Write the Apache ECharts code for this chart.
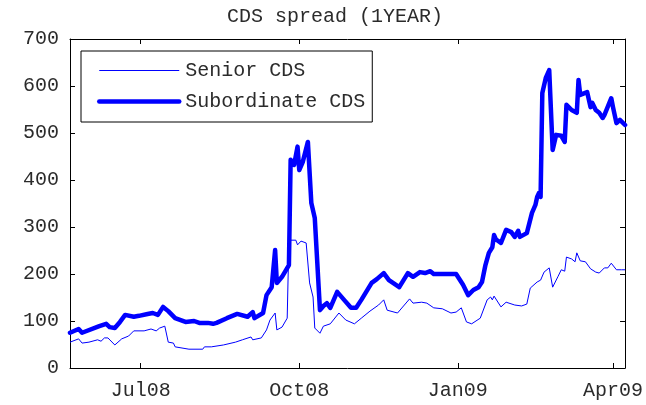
<!DOCTYPE html>
<html>
<head>
<meta charset="utf-8">
<title>CDS spread (1YEAR)</title>
<script src="https://cdn.jsdelivr.net/npm/echarts@6/dist/echarts.min.js"></script>
<style>
  html, body { margin: 0; padding: 0; background: #ffffff; }
  #chart { width: 646px; height: 405px; }
</style>
</head>
<body>
<div id="chart"></div>
<script>
// Senior CDS, 1-year spread (bp)
const seniorDates = [
  '2008-05-21','2008-05-26','2008-05-28','2008-06-01','2008-06-06','2008-06-08','2008-06-10','2008-06-12',
  '2008-06-16','2008-06-20','2008-06-24','2008-06-27','2008-07-03','2008-07-07','2008-07-10','2008-07-12',
  '2008-07-15','2008-07-17','2008-07-20','2008-07-21','2008-07-29','2008-08-06','2008-08-07','2008-08-11',
  '2008-08-18','2008-08-25','2008-08-29','2008-09-03','2008-09-04','2008-09-09','2008-09-12','2008-09-14',
  '2008-09-17','2008-09-18','2008-09-21','2008-09-24','2008-09-25','2008-09-29','2008-09-30','2008-10-02',
  '2008-10-05','2008-10-07','2008-10-09','2008-10-10','2008-10-13','2008-10-15','2008-10-19','2008-10-24',
  '2008-10-28','2008-11-02','2008-11-06','2008-11-11','2008-11-16','2008-11-19','2008-11-21','2008-11-27',
  '2008-12-04','2008-12-06','2008-12-11','2008-12-14','2008-12-18','2008-12-23','2008-12-28','2008-12-31',
  '2009-01-03','2009-01-06','2009-01-09','2009-01-14','2009-01-15','2009-01-18','2009-01-20','2009-01-21',
  '2009-01-22','2009-01-26','2009-01-29','2009-02-03','2009-02-07','2009-02-10','2009-02-12','2009-02-16',
  '2009-02-18','2009-02-20','2009-02-23','2009-02-25','2009-02-28','2009-03-02','2009-03-04','2009-03-05',
  '2009-03-08','2009-03-10','2009-03-11','2009-03-13','2009-03-16','2009-03-19','2009-03-22','2009-03-24',
  '2009-03-27','2009-03-29','2009-03-31','2009-04-03','2009-04-06','2009-04-08'
];
const seniorValues = [
  55, 62, 53, 55, 60, 57, 64, 64,
  49, 62, 68, 79, 79, 83, 79, 85,
  89, 55, 53, 45, 40, 40, 45, 45,
  49, 55, 60, 66, 60, 64, 81, 102,
  117, 81, 87, 106, 272, 272, 262, 270,
  266, 181, 151, 85, 74, 89, 94, 117,
  102, 94, 106, 121, 134, 145, 123, 117,
  147, 138, 140, 138, 128, 126, 117, 119,
  128, 98, 94, 106, 106, 145, 151, 145,
  153, 130, 140, 134, 132, 136, 170, 183,
  187, 204, 213, 172, 194, 209, 206, 236,
  232, 226, 245, 228, 226, 211, 204, 202,
  213, 213, 223, 209, 209, 209
];

// Subordinate CDS, 1-year spread (bp)
const subDates = [
  '2008-05-21','2008-05-26','2008-05-28','2008-06-07','2008-06-11','2008-06-13','2008-06-16','2008-06-19',
  '2008-06-22','2008-06-27','2008-06-30','2008-07-05','2008-07-08','2008-07-11','2008-07-14','2008-07-17',
  '2008-07-21','2008-07-27','2008-08-01','2008-08-04','2008-08-09','2008-08-12','2008-08-14','2008-08-20',
  '2008-08-26','2008-09-01','2008-09-04','2008-09-05','2008-09-10','2008-09-12','2008-09-15','2008-09-17',
  '2008-09-18','2008-09-21','2008-09-25','2008-09-26','2008-09-28','2008-09-30','2008-10-01','2008-10-03',
  '2008-10-06','2008-10-08','2008-10-10','2008-10-13','2008-10-15','2008-10-17','2008-10-19','2008-10-23',
  '2008-10-27','2008-10-31','2008-11-03','2008-11-06','2008-11-12','2008-11-15','2008-11-19','2008-11-22',
  '2008-11-28','2008-12-03','2008-12-06','2008-12-10','2008-12-13','2008-12-16','2008-12-18','2008-12-31',
  '2009-01-01','2009-01-04','2009-01-07','2009-01-10','2009-01-13','2009-01-15','2009-01-17','2009-01-19',
  '2009-01-21','2009-01-22','2009-01-23','2009-01-26','2009-01-29','2009-02-01','2009-02-03','2009-02-05',
  '2009-02-06','2009-02-10','2009-02-13','2009-02-15','2009-02-16','2009-02-17','2009-02-18','2009-02-19',
  '2009-02-21','2009-02-23','2009-02-25','2009-02-27','2009-03-02','2009-03-04','2009-03-05','2009-03-08',
  '2009-03-11','2009-03-12','2009-03-13','2009-03-17','2009-03-19','2009-03-20','2009-03-22','2009-03-24',
  '2009-03-26','2009-03-27','2009-03-31','2009-04-01','2009-04-03','2009-04-05','2009-04-06','2009-04-08'
];
const subValues = [
  75, 83, 75, 89, 94, 87, 85, 98,
  113, 109, 111, 115, 117, 113, 130, 121,
  106, 98, 100, 96, 96, 94, 96, 106,
  115, 109, 119, 106, 117, 155, 172, 251,
  181, 194, 219, 443, 432, 471, 421, 438,
  481, 351, 319, 123, 132, 138, 128, 162,
  145, 128, 128, 145, 181, 189, 202, 187,
  172, 202, 194, 204, 202, 206, 200, 200,
  196, 177, 155, 166, 172, 183, 219, 245,
  257, 283, 274, 266, 294, 289, 279, 292,
  279, 287, 330, 347, 364, 372, 364, 585,
  617, 634, 464, 496, 494, 481, 560, 549,
  543, 613, 581, 587, 555, 564, 549, 543,
  532, 538, 574, 555, 521, 528, 532, 517
];

// Axis ranges and tick labels
const xStart = '2008-05-21';
const xEnd = '2009-04-08';
const tickDates = ['2008-07-01', '2008-10-01', '2009-01-01', '2009-04-01'];
const tickLabels = ['Jul08', 'Oct08', 'Jan09', 'Apr09'];
const yMin = 0, yMax = 700, yStep = 100;

const FONT = '"Liberation Mono", "DejaVu Sans Mono", monospace';
const TEXT = '#2b2b2b';
const BLUE = '#0000ff';
const THIN = 1;
const THICK = 4.5;

// Dates are placed on a linear day axis (UTC milliseconds)
const toTime = s => {
  const [y, m, d] = s.split('-').map(Number);
  return Date.UTC(y, m - 1, d);
};
const tickTimes = tickDates.map(toTime);
const zip = (ds, vs) => ds.map((d, i) => [toTime(d), vs[i]]);

const chart = echarts.init(document.getElementById('chart'), null, { renderer: 'canvas' });

const boxAxisLine = { show: true, onZero: false, lineStyle: { color: '#000', width: 1 } };
const innerTick = { show: true, inside: true, length: 5, lineStyle: { color: '#000', width: 1 } };

const dateAxis = (pos, withLabels) => ({
  type: 'value',
  min: toTime(xStart),
  max: toTime(xEnd),
  position: pos,
  axisLine: boxAxisLine,
  axisTick: Object.assign({}, innerTick, { customValues: tickTimes }),
  axisLabel: withLabels ? {
    customValues: tickTimes,
    margin: 13,
    fontFamily: FONT,
    fontSize: 20,
    color: TEXT,
    formatter: v => {
      const i = tickTimes.indexOf(+v);
      return i >= 0 ? tickLabels[i] : '';
    }
  } : { show: false },
  splitLine: { show: false }
});

const spreadAxis = (pos, withLabels) => ({
  type: 'value',
  min: yMin,
  max: yMax,
  interval: yStep,
  position: pos,
  axisLine: boxAxisLine,
  axisTick: innerTick,
  axisLabel: withLabels ? { margin: 11, fontFamily: FONT, fontSize: 20, color: TEXT } : { show: false },
  splitLine: { show: false }
});

chart.setOption({
  animation: false,
  backgroundColor: '#ffffff',
  title: {
    text: 'CDS spread (1YEAR)',
    left: 222,
    top: 2,
    textStyle: { fontFamily: FONT, fontSize: 20, fontWeight: 'normal', color: TEXT }
  },
  legend: {
    orient: 'vertical',
    left: 81,
    top: 51,
    padding: [8, 7, 9, 16],
    itemGap: 8,
    itemWidth: 80,
    itemHeight: 14,
    backgroundColor: '#ffffff',
    borderColor: '#000',
    borderWidth: 1,
    selectedMode: false,
    textStyle: { fontFamily: FONT, fontSize: 20, color: TEXT, lineHeight: 20, padding: [3, 0, 0, 1] },
    data: [
      { name: 'Senior CDS', itemStyle: { opacity: 0 }, lineStyle: { width: THIN, color: BLUE } },
      { name: 'Subordinate CDS', itemStyle: { opacity: 0 }, lineStyle: { width: THICK, color: BLUE } }
    ]
  },
  grid: { left: 70, right: 18, top: 39, bottom: 37, containLabel: false },
  xAxis: [dateAxis('bottom', true), dateAxis('top', false)],
  yAxis: [spreadAxis('left', true), spreadAxis('right', false)],
  series: [
    {
      name: 'Senior CDS',
      type: 'line',
      data: zip(seniorDates, seniorValues),
      symbol: 'none',
      color: BLUE,
      lineStyle: { width: THIN, color: BLUE },
      z: 3
    },
    {
      name: 'Subordinate CDS',
      type: 'line',
      data: zip(subDates, subValues),
      symbol: 'none',
      color: BLUE,
      lineStyle: { width: THICK, color: BLUE, join: 'round', cap: 'round' },
      z: 4
    }
  ]
});
</script>
</body>
</html>
